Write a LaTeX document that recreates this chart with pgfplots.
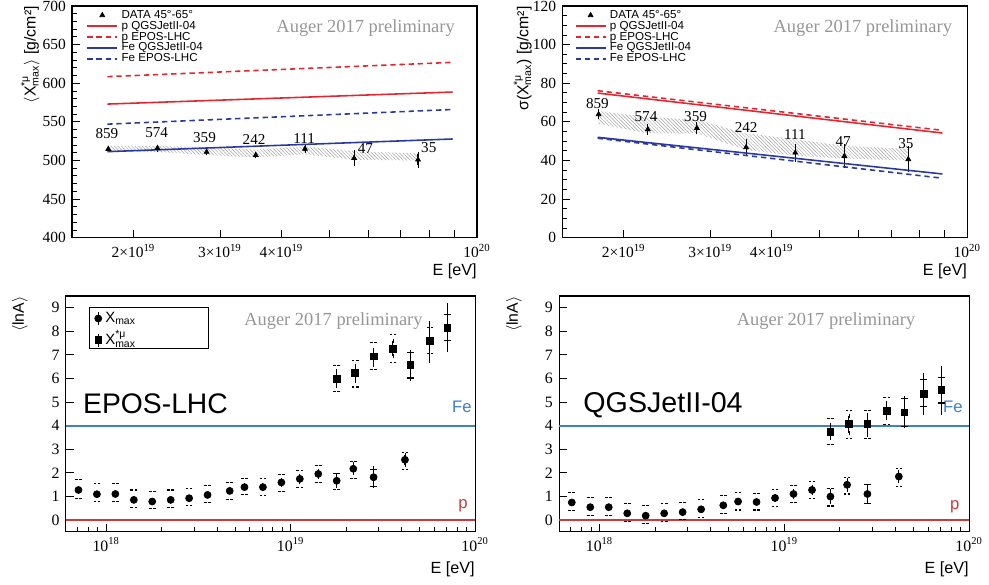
\documentclass[border=0pt]{standalone}
\usepackage{amsmath}
\usepackage{fontspec}
\setmainfont{Liberation Serif}
\setsansfont{Liberation Sans}
\usepackage{pgfplots}
\usepackage{pgfplotstable}
\pgfplotsset{compat=1.18}
\usepgfplotslibrary{fillbetween}
\usetikzlibrary{patterns.meta}
\pgfplotsset{/pgf/number format/assume math mode=true}

\definecolor{rootRed}{RGB}{228,38,48}
\definecolor{rootBlue}{RGB}{42,56,162}
\definecolor{feBlue}{RGB}{64,128,196}
\definecolor{pRed}{RGB}{204,58,58}
\definecolor{augerGray}{RGB}{150,150,150}

% <X*mu_max>, 45-65 deg, with sys band (up/lo)
\pgfplotstableread{
x        y      e    up    lo
1.778e19 514.8  1.5  519.0 511.0
2.239e19 516.0  1.5  519.0 511.0
2.818e19 511.0  1.5  517.0 507.0
3.548e19 507.0  1.5  514.0 504.0
4.467e19 515.0  2.5  518.0 508.0
5.623e19 503.0  7.5  512.0 501.0
7.586e19 501.0  7.5  509.0 500.0
}\meanData

% sigma(X*mu_max)
\pgfplotstableread{
x        y     e    up    lo
1.778e19 63.9  1.5  65.5  59.0
2.239e19 56.1  1.5  62.5  54.0
2.818e19 56.8  2.0  61.0  54.0
3.548e19 46.8  3.0  54.0  45.5
4.467e19 44.0  3.5  51.0  42.5
5.623e19 42.3  5.0  47.5  41.0
7.586e19 40.6  5.5  46.0  40.0
}\sigmaData

% <lnA> from Xmax, EPOS-LHC
\pgfplotstableread{
x        y     e     su    sl
7.079e17 1.27  0.04  1.70  0.92
8.913e17 1.09  0.04  1.53  0.78
1.122e18 1.10  0.04  1.53  0.78
1.413e18 0.85  0.04  1.27  0.54
1.778e18 0.78  0.05  1.20  0.47
2.239e18 0.85  0.05  1.27  0.54
2.818e18 0.92  0.05  1.35  0.61
3.548e18 1.06  0.06  1.46  0.75
4.677e18 1.23  0.06  1.60  0.88
5.623e18 1.39  0.07  1.77  1.08
7.079e18 1.39  0.08  1.77  1.03
8.913e18 1.59  0.09  1.94  1.20
1.122e19 1.74  0.11  2.11  1.39
1.413e19 1.95  0.13  2.29  1.59
1.778e19 1.66  0.22  1.98  1.30
2.188e19 2.17  0.18  2.49  1.74
2.818e19 1.81  0.38  2.15  1.42
4.169e19 2.55  0.20  2.88  2.12
}\eposX

% <lnA> from X*mu_max, EPOS-LHC
\pgfplotstableread{
x        y     ep    em    su    sl
1.778e19 5.99  0.31  0.32  6.54  5.44
2.239e19 6.23  0.29  0.32  6.76  5.64
2.818e19 6.94  0.28  0.35  7.54  6.37
3.589e19 7.25  0.33  0.31  7.85  6.69
4.467e19 6.57  0.54  0.58  7.11  6.02
5.689e19 7.59  0.77  0.83  8.15  7.05
7.079e19 8.16  0.95  0.96  8.71  7.61
}\eposM

% <lnA> from Xmax, QGSJetII-04
\pgfplotstableread{
x        y     e     su    sl
7.079e17 0.74  0.04  1.18  0.38
8.913e17 0.54  0.04  0.96  0.18
1.122e18 0.54  0.04  0.96  0.18
1.413e18 0.28  0.04  0.71  -0.06
1.778e18 0.18  0.05  0.61  -0.14
2.239e18 0.28  0.05  0.71  -0.06
2.818e18 0.33  0.05  0.75  0.00
3.548e18 0.45  0.06  0.85  0.11
4.677e18 0.62  0.06  1.02  0.28
5.623e18 0.78  0.07  1.16  0.42
7.079e18 0.76  0.08  1.13  0.42
8.913e18 0.93  0.09  1.30  0.57
1.122e19 1.10  0.11  1.44  0.75
1.413e19 1.27  0.13  1.63  0.92
1.778e19 0.99  0.22  1.35  0.59
2.188e19 1.49  0.20  1.81  1.10
2.818e19 1.10  0.35  1.49  0.71
4.169e19 1.84  0.20  2.20  1.42
}\qgsX

% <lnA> from X*mu_max, QGSJetII-04
\pgfplotstableread{
x        y     ep    em    su    sl
1.778e19 3.75  0.29  0.28  4.32  3.19
2.239e19 4.07  0.35  0.39  4.65  3.47
2.818e19 4.07  0.39  0.46  4.65  3.47
3.589e19 4.63  0.33  0.31  5.21  4.04
4.467e19 4.56  0.61  0.59  5.17  3.97
5.689e19 5.35  0.81  0.82  5.95  4.82
7.079e19 5.52  0.92  0.99  6.06  4.96
}\qgsM

\pgfplotsset{
  rootaxis/.style={
    scale only axis, anchor=south west,
    axis line style={line width=0.6pt},
    tick align=inside, xtick pos=bottom, ytick pos=left,
    major tick length=0.16cm, minor tick length=0.1cm,
    every tick/.style={black, line width=0.5pt},
    xlabel={E [eV]},
    xlabel style={font=\sffamily\fontsize{9.2}{10}\selectfont, anchor=north east, inner sep=0pt},
    ylabel style={font=\sffamily\fontsize{9}{10}\selectfont, anchor=south east, inner sep=0pt},
  },
  toppanel/.style={
    rootaxis, width=8.1cm, height=4.634cm,
    xmin=1.5e19, xmax=1e20,
    xtick={2e19,3e19,4e19,5e19,6e19,7e19,8e19,9e19,1e20},
    xticklabels={2×10\textsuperscript{19},3×10\textsuperscript{19},4×10\textsuperscript{19},,,,,,10\textsuperscript{20}},
    minor xtick={},
    ticklabel style={font=\fontsize{8.8}{10}\selectfont},
    xlabel style={at={(axis description cs:1,-0.112)}},
    legend style={draw=none, fill=none, anchor=north west, inner sep=0pt,
      font=\sffamily\fontsize{6.6}{7}\selectfont, row sep=0pt,
      nodes={inner ysep=0pt, text height=4.8pt, text depth=1.4pt}},
    legend cell align=left,
  },
  botpanel/.style={
    rootaxis, height=4.714cm,
    xmin=6.04e17, xmax=1e20, ymin=-0.5, ymax=9.5,
    xtick={1e18,1e19,1e20},
    xticklabels={10\textsuperscript{18},10\textsuperscript{19},10\textsuperscript{20}},
    minor xtick={7e17,8e17,9e17,2e18,3e18,4e18,5e18,6e18,7e18,8e18,9e18,2e19,3e19,4e19,5e19,6e19,7e19,8e19,9e19},
    ytick={0,1,2,3,4,5,6,7,8,9},
    ticklabel style={font=\fontsize{9}{10}\selectfont},
    ylabel={$\langle$lnA$\rangle$},
    xlabel style={at={(axis description cs:1,-0.125)}},
  },
  errleg/.style={legend image code/.code={%
    \draw[black, line width=0.6pt] (0.2cm,-0.13cm) -- (0.2cm,0.13cm);
    \draw[##1] plot coordinates {(0.2cm,0cm)};}},
  modelline/.style={line width=0.9pt},
  dashedline/.style={line width=0.9pt, dash pattern=on 3pt off 2.2pt},
  datatri/.style={only marks, mark=triangle*, mark size=1.6pt, black,
    error bars/.cd, y dir=both, y explicit,
    error mark options={mark size=1.3pt, line width=0.5pt},
    error bar style={line width=0.6pt}},
  lnaerr/.style={error bars/.cd, y dir=both, y explicit,
    error mark options={mark size=1.2pt, line width=0.5pt},
    error bar style={line width=0.6pt}},
  syserr/.style={only marks, mark=-, mark size=1.9pt, black, forget plot,
    mark options={solid, line width=0.6pt, dash pattern=on 1.5pt off 0.8pt}},
  hatch/.style={draw=none, forget plot,
    pattern={Lines[angle=-45,distance=1.4pt,line width=0.28pt]}, pattern color=gray!75},
}
\tikzset{
  numlab/.style={font=\fontsize{8.6}{10}\selectfont, anchor=base, inner sep=0pt},
  auger/.style={font=\fontsize{10.5}{12}\selectfont, text=augerGray},
}

\begin{document}
\begin{tikzpicture}

% ---------- top left: <X*mu_max>
\begin{semilogxaxis}[toppanel, at={(1.44cm,6.946cm)},
  ymin=400, ymax=700, ytick={400,450,...,700}, minor y tick num=4,
  ylabel={$\langle\textsf{X}^{\textsf{*μ}}_{\textsf{max}}\rangle$ [g/cm²]},
  ylabel style={at={(axis description cs:-0.079,1)}},
  legend style={at={(axis description cs:0.035,0.985)}},
]
\addplot[name path=upA, draw=none, forget plot] table[x=x, y=up] {\meanData};
\addplot[name path=loA, draw=none, forget plot] table[x=x, y=lo] {\meanData};
\addplot[hatch] fill between[of=upA and loA];
\addplot[datatri] table[x=x, y=y, y error=e] {\meanData};
\addlegendentry{DATA 45°-65°}
\addplot[rootRed, modelline] coordinates {(1.77e19,573.0) (8.92e19,588.6)};
\addlegendentry{p QGSJetII-04}
\addplot[rootRed, dashedline] coordinates {(1.77e19,608.5) (8.92e19,627.0)};
\addlegendentry{p EPOS-LHC}
\addplot[rootBlue, modelline] coordinates {(1.77e19,511.4) (8.92e19,527.8)};
\addlegendentry{Fe QGSJetII-04}
\addplot[rootBlue, dashedline] coordinates {(1.77e19,547.0) (8.92e19,566.0)};
\addlegendentry{Fe EPOS-LHC}
\node[numlab] at (axis cs:1.766e19,528.7) {859};
\node[numlab] at (axis cs:2.23e19,529.5) {574};
\node[numlab] at (axis cs:2.79e19,523.0) {359};
\node[numlab] at (axis cs:3.52e19,521.3) {242};
\node[numlab] at (axis cs:4.45e19,522.2) {111};
\node[numlab] at (axis cs:5.93e19,509.2) {47};
\node[numlab] at (axis cs:7.98e19,510.5) {35};
\node[auger] at (axis description cs:0.725,0.903) {Auger 2017 preliminary};
\end{semilogxaxis}

% ---------- top right: sigma(X*mu_max)
\begin{semilogxaxis}[toppanel, at={(11.246cm,6.946cm)},
  ymin=0, ymax=120, ytick={0,20,...,120}, minor y tick num=3,
  ylabel={σ($\textsf{X}^{\textsf{*μ}}_{\textsf{max}}$) [g/cm²]},
  ylabel style={at={(axis description cs:-0.075,1)}},
  legend style={at={(axis description cs:0.03,0.985)}},
]
\addplot[name path=upB, draw=none, forget plot] table[x=x, y=up] {\sigmaData};
\addplot[name path=loB, draw=none, forget plot] table[x=x, y=lo] {\sigmaData};
\addplot[hatch] fill between[of=upB and loB];
\addplot[datatri] table[x=x, y=y, y error=e] {\sigmaData};
\addlegendentry{DATA 45°-65°}
\addplot[rootRed, modelline] coordinates {(1.77e19,74.9) (8.9e19,54.2)};
\addlegendentry{p QGSJetII-04}
\addplot[rootRed, dashedline] coordinates {(1.77e19,76.1) (8.9e19,55.6)};
\addlegendentry{p EPOS-LHC}
\addplot[rootBlue, modelline] coordinates {(1.77e19,52.0) (8.9e19,33.0)};
\addlegendentry{Fe QGSJetII-04}
\addplot[rootBlue, dashedline] coordinates {(1.77e19,51.5) (8.9e19,30.8)};
\addlegendentry{Fe EPOS-LHC}
\node[numlab] at (axis cs:1.768e19,67.0) {859};
\node[numlab] at (axis cs:2.22e19,60.1) {574};
\node[numlab] at (axis cs:2.80e19,60.1) {359};
\node[numlab] at (axis cs:3.55e19,54.6) {242};
\node[numlab] at (axis cs:4.46e19,51.1) {111};
\node[numlab] at (axis cs:5.59e19,47.1) {47};
\node[numlab] at (axis cs:7.5e19,46.3) {35};
\node[auger] at (axis description cs:0.742,0.903) {Auger 2017 preliminary};
\end{semilogxaxis}

% ---------- bottom left: <lnA> EPOS-LHC
\begin{semilogxaxis}[botpanel, at={(1.314cm,1.066cm)}, width=8.186cm,
  ylabel style={at={(axis description cs:-0.092,1)}},
  legend style={draw=none, fill=none, at={(axis description cs:0.07,0.95)}, anchor=north west,
    inner sep=0pt, font=\sffamily\fontsize{8.5}{10}\selectfont, row sep=0.5pt,
    nodes={inner ysep=0.5pt, text height=7.8pt, text depth=3pt}},
  legend cell align=left,
]
\addplot[feBlue, line width=1.1pt, forget plot] coordinates {(6.04e17,4) (1e20,4)};
\addplot[pRed, line width=1.1pt, forget plot] coordinates {(6.04e17,0) (1e20,0)};
\addplot[syserr] table[x=x, y=su] {\eposX};
\addplot[syserr] table[x=x, y=sl] {\eposX};
\addplot[syserr] table[x=x, y=su] {\eposM};
\addplot[syserr] table[x=x, y=sl] {\eposM};
\addplot[only marks, mark=*, mark size=2pt, black, errleg, lnaerr]
  table[x=x, y=y, y error=e] {\eposX};
\addlegendentry{$\textsf{X}_{\textsf{max}}$}
\addplot[only marks, mark=square*, mark size=1.9pt, black, errleg, lnaerr]
  table[x=x, y=y, y error plus=ep, y error minus=em] {\eposM};
\addlegendentry{$\textsf{X}^{\textsf{*μ}}_{\textsf{max}}$}
\draw[line width=0.6pt] (axis description cs:0.057,0.953) rectangle (axis description cs:0.348,0.779);
\node[font=\sffamily\fontsize{16.1}{18}\selectfont, anchor=base west, inner sep=0pt] at (axis cs:7.48e17,4.53) {EPOS-LHC};
\node[font=\sffamily\fontsize{9.5}{10}\selectfont, text=feBlue, anchor=base east, inner sep=0pt] at (axis cs:9.63e19,4.56) {Fe};
\node[font=\sffamily\fontsize{9.5}{10}\selectfont, text=pRed, anchor=base east, inner sep=0pt] at (axis cs:9.16e19,0.5) {p};
\node[auger] at (axis description cs:0.654,0.892) {Auger 2017 preliminary};
\end{semilogxaxis}

% ---------- bottom right: <lnA> QGSJetII-04
\begin{semilogxaxis}[botpanel, at={(11.18cm,1.066cm)}, width=8.2cm,
  ylabel style={at={(axis description cs:-0.09,1)}},
]
\addplot[feBlue, line width=1.1pt, forget plot] coordinates {(6.04e17,4) (1e20,4)};
\addplot[pRed, line width=1.1pt, forget plot] coordinates {(6.04e17,0) (1e20,0)};
\addplot[syserr] table[x=x, y=su] {\qgsX};
\addplot[syserr] table[x=x, y=sl] {\qgsX};
\addplot[syserr] table[x=x, y=su] {\qgsM};
\addplot[syserr] table[x=x, y=sl] {\qgsM};
\addplot[only marks, mark=*, mark size=2pt, black, lnaerr]
  table[x=x, y=y, y error=e] {\qgsX};
\addplot[only marks, mark=square*, mark size=1.9pt, black, lnaerr]
  table[x=x, y=y, y error plus=ep, y error minus=em] {\qgsM};
\node[font=\sffamily\fontsize{16.3}{18}\selectfont, anchor=base west, inner sep=0pt] at (axis cs:8.15e17,4.56) {QGSJetII-04};
\node[font=\sffamily\fontsize{9.5}{10}\selectfont, text=feBlue, anchor=base east, inner sep=0pt] at (axis cs:9.28e19,4.56) {Fe};
\node[font=\sffamily\fontsize{9.5}{10}\selectfont, text=pRed, anchor=base east, inner sep=0pt] at (axis cs:8.9e19,0.45) {p};
\node[auger] at (axis description cs:0.651,0.892) {Auger 2017 preliminary};
\end{semilogxaxis}

% fix the page to the reference frame
\pgfresetboundingbox
\path[use as bounding box] (0,0) rectangle (19.78cm,11.7cm);
\end{tikzpicture}
\end{document}
